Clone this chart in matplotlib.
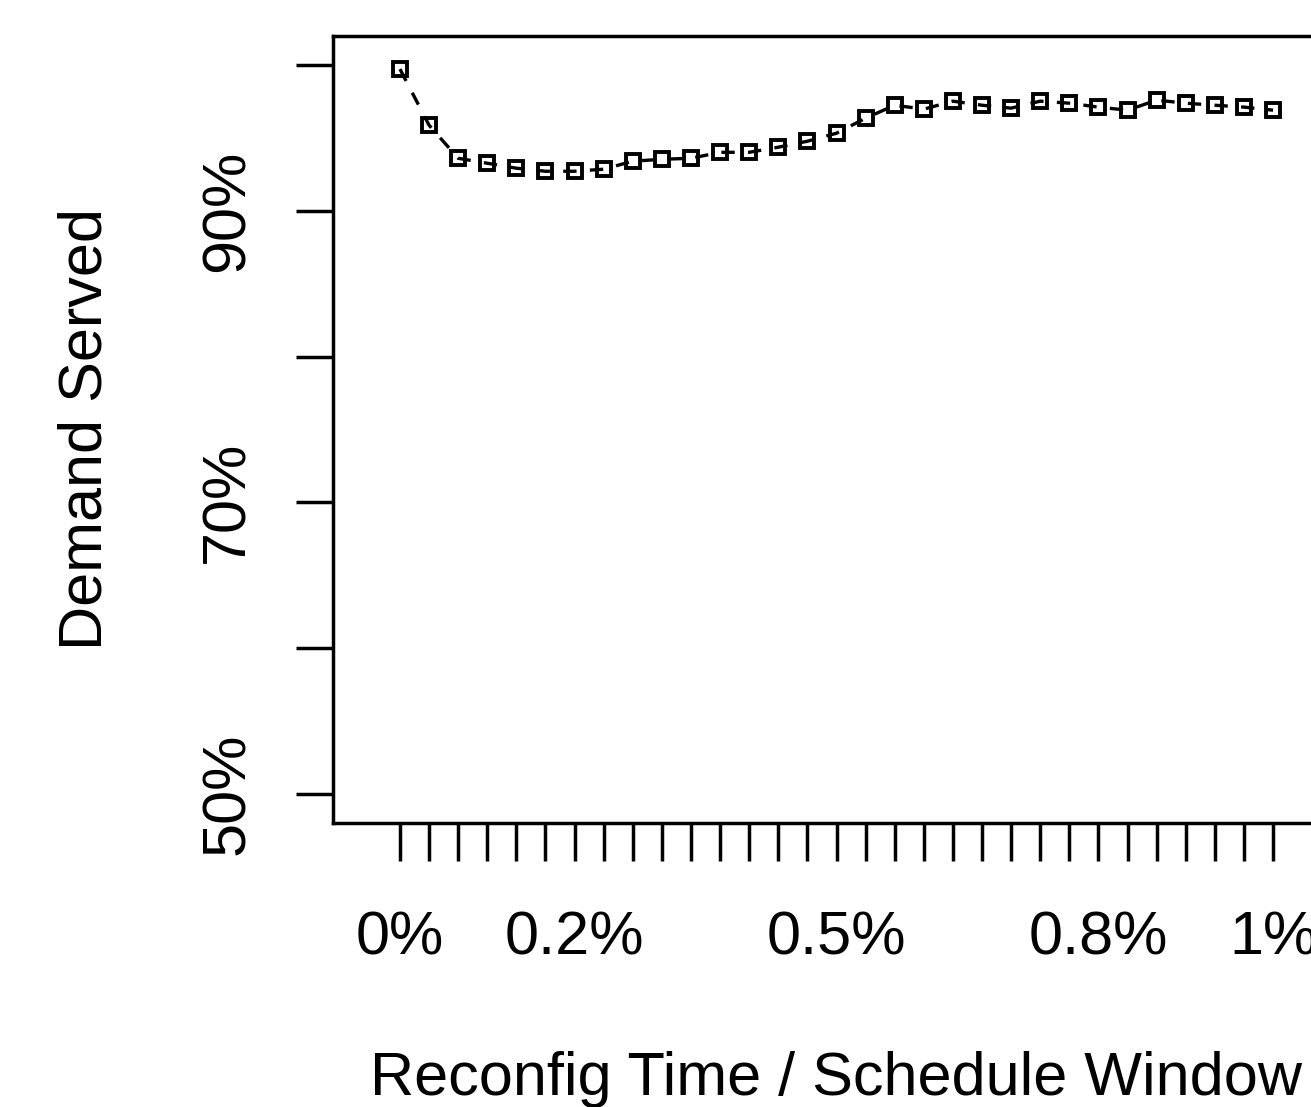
import numpy as np
import matplotlib
matplotlib.use("Agg")
import matplotlib.pyplot as plt

# ratio of reconfiguration time to schedule window (%), 31 steps
ratio = np.arange(31) / 30
# share of demand served (%)
served = [99.73, 95.88, 93.61, 93.27, 92.93, 92.72, 92.72, 92.86, 93.41, 93.54,
          93.61, 94.02, 94.02, 94.37, 94.78, 95.33, 96.36, 97.25, 96.98, 97.53,
          97.25, 97.05, 97.53, 97.39, 97.12, 96.91, 97.60, 97.39, 97.25, 97.12,
          96.91]

y_ticks = [50, 60, 70, 80, 90, 100]
y_labels = ["50%", "", "70%", "", "90%", ""]
x_label_map = {0: "0%", 6: "0.2%", 15: "0.5%", 24: "0.8%", 30: "1%"}

plt.rcParams['font.family'] = ['Liberation Sans', 'DejaVu Sans']
plt.rcParams['lines.scale_dashes'] = True

fig = plt.figure(figsize=(13.11, 11.07), dpi=100)
# plot box runs past the right edge of the image, like the original
ax = fig.add_axes([333 / 1311, 284 / 1107, 1007 / 1311, 787 / 1107])

ax.plot(ratio, served, color='black', linewidth=2.4, dashes=(4, 4),
        marker='s', markersize=9.5, markerfacecolor='none',
        markeredgewidth=2.8, markeredgecolor='black')

ax.set_xlim(-0.0767, 1.0767)
ax.set_ylim(48, 102)

ax.set_yticks(y_ticks)
ax.set_yticklabels(y_labels, rotation=90, va='center')
ax.set_xticks(ratio)
ax.set_xticklabels([x_label_map.get(i, "") for i in range(len(ratio))])

ax.tick_params(axis='both', length=27, width=2.5, labelsize=44, color='black')
ax.tick_params(axis='y', pad=28)
ax.tick_params(axis='x', pad=36)

for side in ['left', 'top', 'bottom']:
    ax.spines[side].set_linewidth(2.5)
ax.spines['right'].set_visible(False)

ax.set_ylabel("Demand Served", fontsize=44, labelpad=61)
ax.set_xlabel("Reconfig Time / Schedule Window", fontsize=44, labelpad=60)

fig.savefig("out.png", dpi=100)
